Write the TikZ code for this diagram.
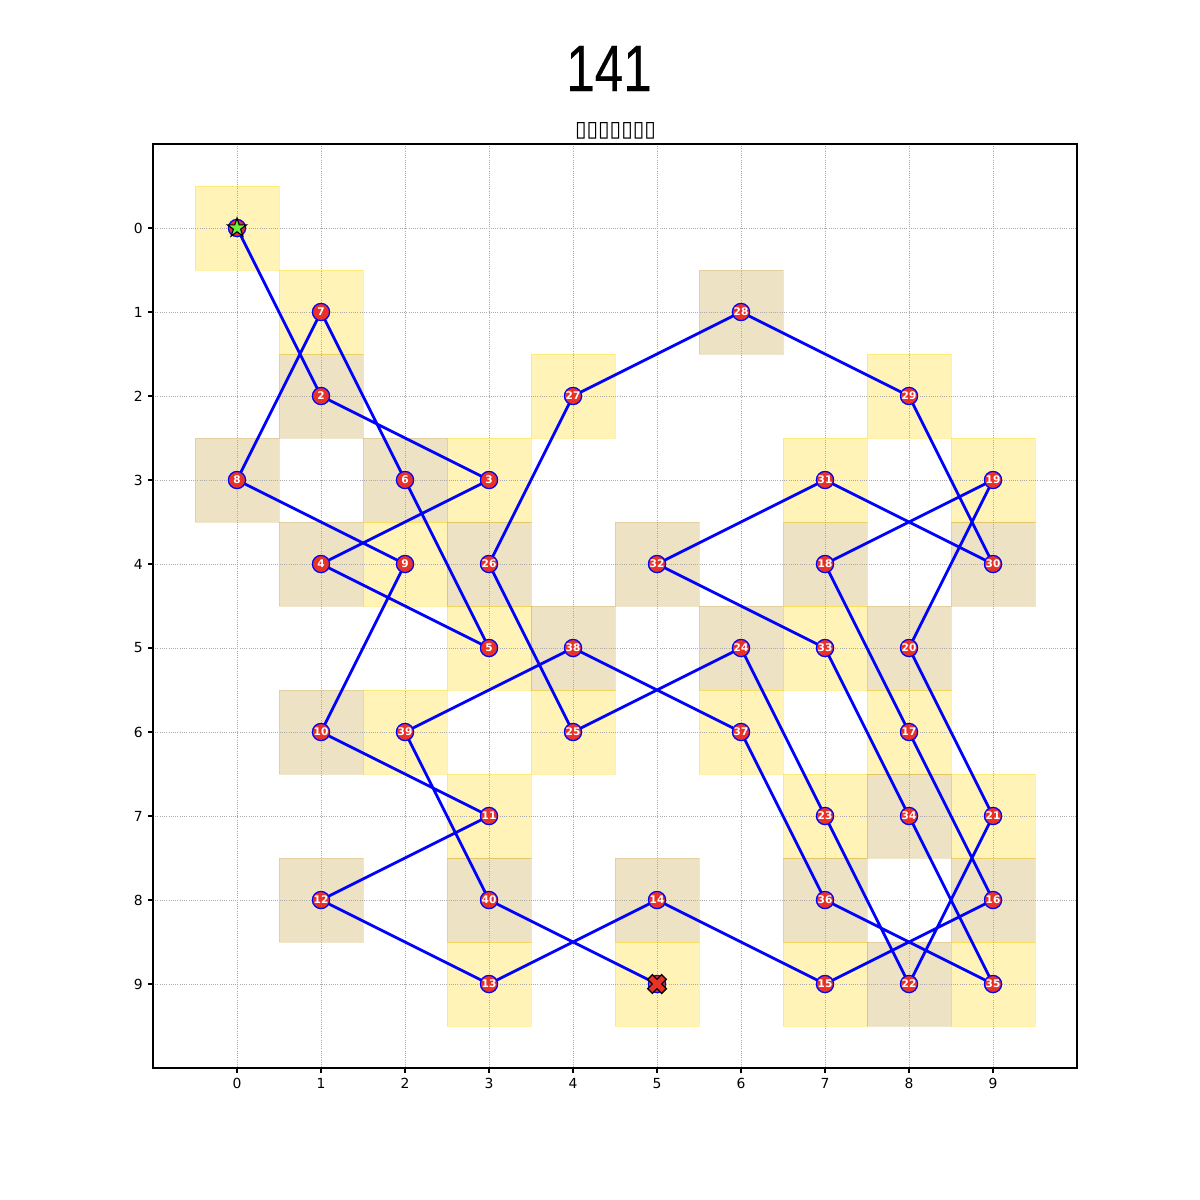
\documentclass[tikz,border=0pt]{standalone}
\usepackage{fontspec}
\setmainfont{DejaVu Sans}
\newfontfamily\titlefont[FakeStretch=0.78,FakeBold=0.4]{Liberation Sans}
\usetikzlibrary{shapes.geometric}
\definecolor{sqyellow}{RGB}{255,215,0}
\definecolor{sqtan}{RGB}{184,134,11}
\definecolor{nodered}{RGB}{232,50,40}
\definecolor{stargreen}{RGB}{110,240,60}
\definecolor{gridgray}{RGB}{170,170,170}
\begin{document}
\begin{tikzpicture}[x=0.72pt,y=-0.72pt,
  sqA/.style={fill=sqyellow,fill opacity=0.28,draw=sqyellow,draw opacity=0.35,line width=0.6pt},
  sqB/.style={fill=sqtan,fill opacity=0.24,draw=sqtan,draw opacity=0.2,line width=0.6pt},
  gridl/.style={draw=gridgray,line width=0.5pt,dash pattern=on 0.6pt off 1.0pt},
  tourline/.style={draw=blue,line width=2pt,line join=round,line cap=round},
  dot/.style={circle,fill=nodered,draw=blue,line width=0.9pt,minimum size=12.4pt,inner sep=0pt,
    text=white,font=\fontsize{7.6}{8}\selectfont\bfseries},
  ticklab/.style={font=\fontsize{10}{12}\selectfont,inner sep=0pt},
  tickmark/.style={draw=black,line width=0.8pt}
]
\useasboundingbox (0,0) rectangle (1200,1200);
\fill[white] (0,0) rectangle (1200,1200);

% positions
\foreach \i/\c/\r in {1/0/0,2/1/2,3/3/3,4/1/4,5/3/5,6/2/3,7/1/1,8/0/3,9/2/4,10/1/6,
  11/3/7,12/1/8,13/3/9,14/5/8,15/7/9,16/9/8,17/8/6,18/7/4,19/9/3,20/8/5,
  21/9/7,22/8/9,23/7/7,24/6/5,25/4/6,26/3/4,27/4/2,28/6/1,29/8/2,30/9/4,
  31/7/3,32/5/4,33/7/5,34/8/7,35/9/9,36/7/8,37/6/6,38/4/5,39/2/6,40/3/8,41/5/9}{
  \coordinate (p\i) at ({237+84*\c},{228+84*\r});
  \pgfmathtruncatemacro\sqsum{\c+\r}
  \ifodd\sqsum \def\sqst{sqB}\else\def\sqst{sqA}\fi
  \path[\sqst] ({237+84*\c-42},{228+84*\r-42}) rectangle ({237+84*\c+42},{228+84*\r+42});
}

% grid
\foreach \k in {0,...,9}{
  \draw[gridl] ({237+84*\k},144) -- ({237+84*\k},1068);
  \draw[gridl] (153,{228+84*\k}) -- (1077,{228+84*\k});
}

% frame and ticks
\draw[line width=0.8pt] (153,144) rectangle (1077,1068);
\foreach \k in {0,...,9}{
  \draw[tickmark] ({237+84*\k},1068) -- ({237+84*\k},1072.9);
  \node[ticklab,anchor=north] (xl\k) at ({237+84*\k},1078) {\k};
  \draw[tickmark] (153,{228+84*\k}) -- (148.1,{228+84*\k});
  \node[ticklab,anchor=east] (yl\k) at (143,{228+84*\k}) {\k};
}

% titles
\node[inner sep=0pt] (title) at (609,68.5) {\titlefont\fontsize{47.3}{50}\selectfont 141};
\node[inner sep=0pt] (subtitle) at (615.5,130.5) {\resizebox*{58.3pt}{12pt}{▯▯▯▯▯▯▯}};

% tour path
\draw[tourline] (p1) -- (p2) -- (p3) -- (p4) -- (p5) -- (p6) -- (p7) -- (p8) -- (p9) -- (p10)
  -- (p11) -- (p12) -- (p13) -- (p14) -- (p15) -- (p16) -- (p17) -- (p18) -- (p19) -- (p20)
  -- (p21) -- (p22) -- (p23) -- (p24) -- (p25) -- (p26) -- (p27) -- (p28) -- (p29) -- (p30)
  -- (p31) -- (p32) -- (p33) -- (p34) -- (p35) -- (p36) -- (p37) -- (p38) -- (p39) -- (p40)
  -- (p41);

% nodes
\foreach \i in {1,...,41}{
  \ifnum\i=1 \node[dot] (n\i) at (p\i) {};
  \else\ifnum\i=41 \node[dot] (n\i) at (p\i) {};
  \else \node[dot] (n\i) at (p\i) {\i};
  \fi\fi
}

% start star
\node[star,star points=5,star point ratio=2.618,minimum size=14.4pt,inner sep=0pt,
  fill=stargreen,draw=black,line width=0.8pt] (startmark) at (n1) {};

% end X
\begin{scope}[shift={(n41.center)}]
  \draw[fill=nodered,draw=black,line width=0.9pt,line join=miter]
    (-4.7,-9.4) -- (0,-4.7) -- (4.7,-9.4) -- (9.4,-4.7) -- (4.7,0) -- (9.4,4.7)
    -- (4.7,9.4) -- (0,4.7) -- (-4.7,9.4) -- (-9.4,4.7) -- (-4.7,0) -- (-9.4,-4.7) -- cycle;
\end{scope}
\end{tikzpicture}
\end{document}
